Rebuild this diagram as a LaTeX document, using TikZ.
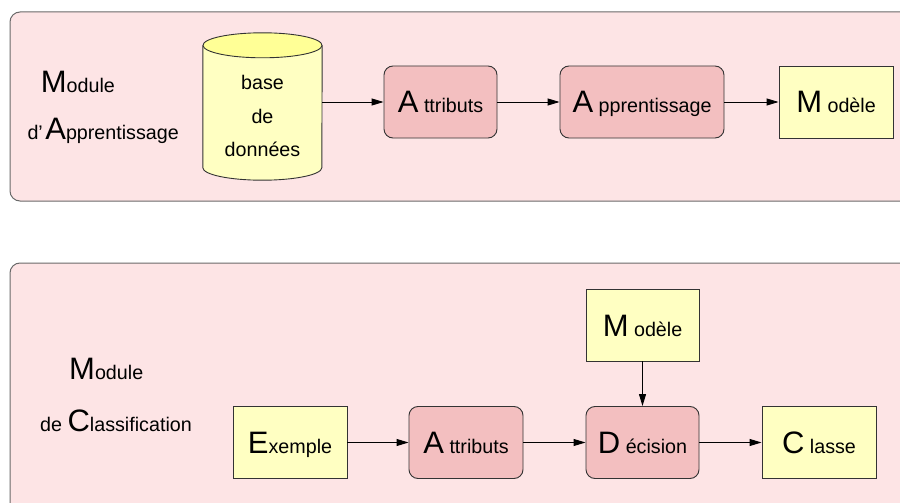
\documentclass[tikz,border=0pt]{standalone}
\usepackage{fontspec}
\setmainfont{Liberation Sans}
\usetikzlibrary{arrows.meta}

\definecolor{panelpink}{HTML}{FDE4E5}
\definecolor{panelline}{HTML}{6A6A6A}
\definecolor{procpink}{HTML}{F3BFC0}
\definecolor{dataylw}{HTML}{FFFFC2}
\definecolor{cyltop}{HTML}{FFFF96}
\definecolor{boxline}{HTML}{333333}

% enlarged initial letter
\newcommand\initial[1]{{\fontsize{31}{36}\selectfont #1}}

\begin{document}
\begin{tikzpicture}[x=1pt,y=-1pt,
  every node/.style={font=\fontsize{19.7}{23}\selectfont},
  panel/.style={draw=panelline, fill=panelpink, line width=1pt, rounded corners=10pt},
  procbox/.style={draw=boxline, fill=procpink, line width=0.9pt, rounded corners=9pt,
    minimum height=72pt, inner sep=0pt, text height=22pt, text depth=0pt},
  databox/.style={draw=boxline, fill=dataylw, line width=0.9pt,
    minimum height=72pt, inner sep=0pt, text height=22pt, text depth=0pt},
  label/.style={anchor=base west, inner sep=0pt},
  flow/.style={-{Triangle[length=12pt,width=7pt]}, line width=0.9pt, draw=black}
]
\useasboundingbox (0,0) rectangle (900,503);
\clip (0,0) rectangle (900,503);

% the two module panels
\draw[panel] (10,12) rectangle (915,201);
\draw[panel] (10,263) rectangle (915,520);

% learning module
\node[label] (lbA1) at (40.7,92.3) {\initial{M}odule};
\node[label] (lbA2) at (27.3,139.3) {d’\kern2.5pt\initial{A}pprentissage};

% database cylinder
\node[minimum width=119pt, minimum height=147pt, inner sep=0pt] (db) at (262.5,106.5) {};
\draw[draw=boxline, fill=dataylw, line width=0.9pt]
  ([yshift=-12.5pt]db.north west) -- ([yshift=12.5pt]db.south west)
  arc[start angle=180, end angle=360, x radius=59.5pt, y radius=12.5pt]
  -- ([yshift=-12.5pt]db.north east);
\draw[draw=boxline, fill=cyltop, line width=0.9pt]
  ([yshift=-12.5pt]db.north) ellipse [x radius=59.5pt, y radius=12.5pt];
\node[align=center, font=\fontsize{19.7}{33.5}\selectfont] (dbtext) at (262.5,116) {base\\de\\données};

\node[procbox, minimum width=113pt] (att) at (440.5,102) {\initial{A} ttributs};
\node[procbox, minimum width=164pt] (app) at (642,102) {\initial{A} pprentissage};
\node[databox, minimum width=114pt] (mod) at (836,102) {\initial{M} odèle};

\draw[flow] (db.east |- att.west) -- (att.west);
\draw[flow] (att) -- (app);
\draw[flow] (app) -- (mod);

% classification module
\node[label] (lbC1) at (69,379) {\initial{M}odule};
\node[label] (lbC2) at (40,431.7) {de \initial{C}lassification};

\node[databox, minimum width=114pt] (ex) at (290,442.5) {\initial{E}xemple};
\node[procbox, minimum width=114pt] (att2) at (466,442.5) {\initial{A} ttributs};
\node[procbox, minimum width=113pt] (dec) at (642.5,442.5) {\initial{D} écision};
\node[databox, minimum width=114pt] (cls) at (819,442.5) {\initial{C} lasse};
\node[databox, minimum width=113pt] (mod2) at (642.5,325) {\initial{M} odèle};

\draw[flow] (ex) -- (att2);
\draw[flow] (att2) -- (dec);
\draw[flow] (dec) -- (cls);
\draw[flow] (mod2) -- (dec);
\end{tikzpicture}
\end{document}
